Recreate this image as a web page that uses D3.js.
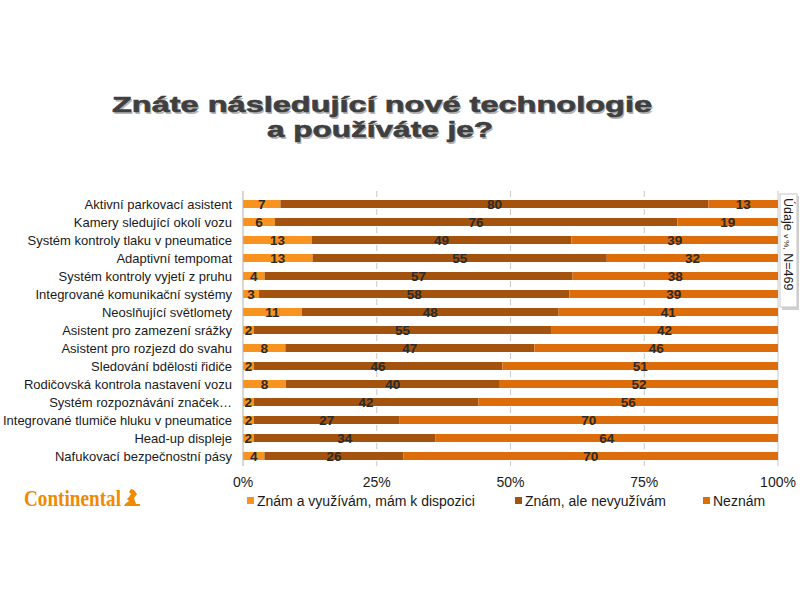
<!DOCTYPE html>
<html lang="cs">
<head>
<meta charset="UTF-8">
<title>Znáte následující nové technologie</title>
<script src="https://d3js.org/d3.v7.min.js"></script>
<style>
  body { margin: 0; background: #fff; }
  svg { font-family: "Liberation Sans", Arial, sans-serif; }
  .cat { font-size: 13px; fill: #1a1a1a; }
  .val { font-size: 13.5px; font-weight: bold; fill: #2b2b2b; }
  .tick { font-size: 14px; fill: #1a1a1a; }
  .legend { font-size: 14px; fill: #1a1a1a; }
</style>
</head>
<body>
<svg width="800" height="600"></svg>
<script>
// data (values in %)
const categories = [
  "Aktivní parkovací asistent",
  "Kamery sledující okolí vozu",
  "Systém kontroly tlaku v pneumatice",
  "Adaptivní tempomat",
  "Systém kontroly vyjetí z pruhu",
  "Integrované komunikační systémy",
  "Neoslňující světlomety",
  "Asistent pro zamezení srážky",
  "Asistent pro rozjezd do svahu",
  "Sledování bdělosti řidiče",
  "Rodičovská kontrola nastavení vozu",
  "Systém rozpoznávání značek…",
  "Integrované tlumiče hluku v pneumatice",
  "Head-up displeje",
  "Nafukovací bezpečnostní pásy"
];
const znamVyuzivam = [7, 6, 13, 13, 4, 3, 11, 2, 8, 2, 8, 2, 2, 2, 4];
const znamNevyuzivam = [80, 76, 49, 55, 57, 58, 48, 55, 47, 46, 40, 42, 27, 34, 26];
const neznam = [13, 19, 39, 32, 38, 39, 41, 42, 46, 51, 52, 56, 70, 64, 70];
const seriesNames = ["Znám a využívám, mám k dispozici", "Znám, ale nevyužívám", "Neznám"];
const seriesColors = ["#f7931e", "#a4530f", "#dd6c0a"];
const tickLabels = ["0%", "25%", "50%", "75%", "100%"];

const keys = ["a", "b", "c"];
const rows = categories.map((c, i) => ({ cat: c, a: znamVyuzivam[i], b: znamNevyuzivam[i], c: neznam[i] }));
const stacked = d3.stack().keys(keys).offset(d3.stackOffsetExpand)(rows);

const svg = d3.select("svg");

// title
const title = svg.append("g").attr("font-weight", "bold").attr("font-size", 22);
[["Znáte následující nové technologie", 112, 112, 540], ["a používáte je?", 267, 137, 226]].forEach(([t, x, y, w]) => {
  title.append("text").attr("x", x + 1.5).attr("y", y + 1.5).attr("fill", "#b5b5b5")
    .attr("textLength", w).attr("lengthAdjust", "spacingAndGlyphs").text(t);
  title.append("text").attr("x", x).attr("y", y).attr("fill", "#3f3f3f")
    .attr("stroke", "#3f3f3f").attr("stroke-width", 0.6)
    .attr("textLength", w).attr("lengthAdjust", "spacingAndGlyphs").text(t);
});

const x = d3.scaleLinear().domain([0, 1]).range([243, 778]);
const y = d3.scaleBand().domain(categories).range([195, 465]);
const barH = 8;

// gridlines
svg.append("g").selectAll("line")
  .data([0.25, 0.5, 0.75, 1])
  .join("line")
  .attr("x1", d => x(d)).attr("x2", d => x(d))
  .attr("y1", 191).attr("y2", 466)
  .attr("stroke", "#c8c8c8").attr("stroke-width", 1)
  .attr("stroke-dasharray", d => d === 1 ? null : "6,3");

// bars
svg.append("g").selectAll("g")
  .data(stacked)
  .join("g")
  .attr("fill", (d, i) => seriesColors[i])
  .selectAll("rect")
  .data(d => d)
  .join("rect")
  .attr("x", d => x(d[0]))
  .attr("width", d => x(d[1]) - x(d[0]))
  .attr("y", d => y(d.data.cat) + y.bandwidth() / 2 - barH / 2)
  .attr("height", barH);

// axis line at 0
svg.append("line").attr("x1", x(0)).attr("x2", x(0)).attr("y1", 191).attr("y2", 466)
  .attr("stroke", "#b0b0b0");

// value labels
svg.append("g").selectAll("g")
  .data(stacked)
  .join("g")
  .selectAll("text")
  .data(d => d.map(v => ({ v, key: d.key })))
  .join("text")
  .attr("class", "val")
  .attr("x", d => x((d.v[0] + d.v[1]) / 2))
  .attr("y", d => y(d.v.data.cat) + y.bandwidth() / 2 + 5)
  .attr("text-anchor", "middle")
  .text(d => d.v.data[d.key]);

// category labels
svg.append("g").selectAll("text")
  .data(categories)
  .join("text")
  .attr("class", "cat")
  .attr("x", 232)
  .attr("y", d => y(d) + y.bandwidth() / 2 + 4.5)
  .attr("text-anchor", "end")
  .text(d => d);

// x tick labels
svg.append("g").selectAll("text")
  .data(tickLabels)
  .join("text")
  .attr("class", "tick")
  .attr("x", (d, i) => x(i / 4))
  .attr("y", 487)
  .attr("text-anchor", "middle")
  .text(d => d);

// legend
const legX = [247, 515, 703];
const leg = svg.append("g").selectAll("g")
  .data(seriesNames)
  .join("g")
  .attr("transform", (d, i) => `translate(${legX[i]},501)`);
leg.append("rect").attr("x", 0).attr("y", -4).attr("width", 7).attr("height", 7)
  .attr("fill", (d, i) => seriesColors[i]);
leg.append("text").attr("class", "legend").attr("x", 10).attr("y", 5).text(d => d);

// note box
const note = svg.append("g");
note.append("rect").attr("x", 782).attr("y", 196).attr("width", 17).attr("height", 114)
  .attr("fill", "#d0d0d0");
note.append("rect").attr("x", 780).attr("y", 194).attr("width", 17).attr("height", 113)
  .attr("fill", "#fff").attr("stroke", "#c8c8c8");
const nt = note.append("text")
  .attr("transform", "translate(784,198) rotate(90)")
  .attr("font-size", 12.5).attr("fill", "#1a1a1a");
nt.append("tspan").text("Údaje ");
nt.append("tspan").attr("font-size", 8).text("v %,");
nt.append("tspan").text(" N=469");

// logo
const logo = svg.append("g");
logo.append("text").attr("x", 24).attr("y", 506)
  .attr("font-family", "'Liberation Serif', 'DejaVu Serif', serif")
  .attr("font-weight", "bold").attr("font-size", 23)
  .attr("fill", "#f08a00")
  .attr("textLength", 97).attr("lengthAdjust", "spacingAndGlyphs")
  .text("Continental");
logo.append("path")
  .attr("d", "M124,506 L140,506 L140,504 L136,504 L134,498 L137,494 L134,490 L131,489 L129,492 L131,494 L129,497 L127,499 L129,501 L125,504 Z")
  .attr("fill", "#f08a00");
</script>
</body>
</html>
